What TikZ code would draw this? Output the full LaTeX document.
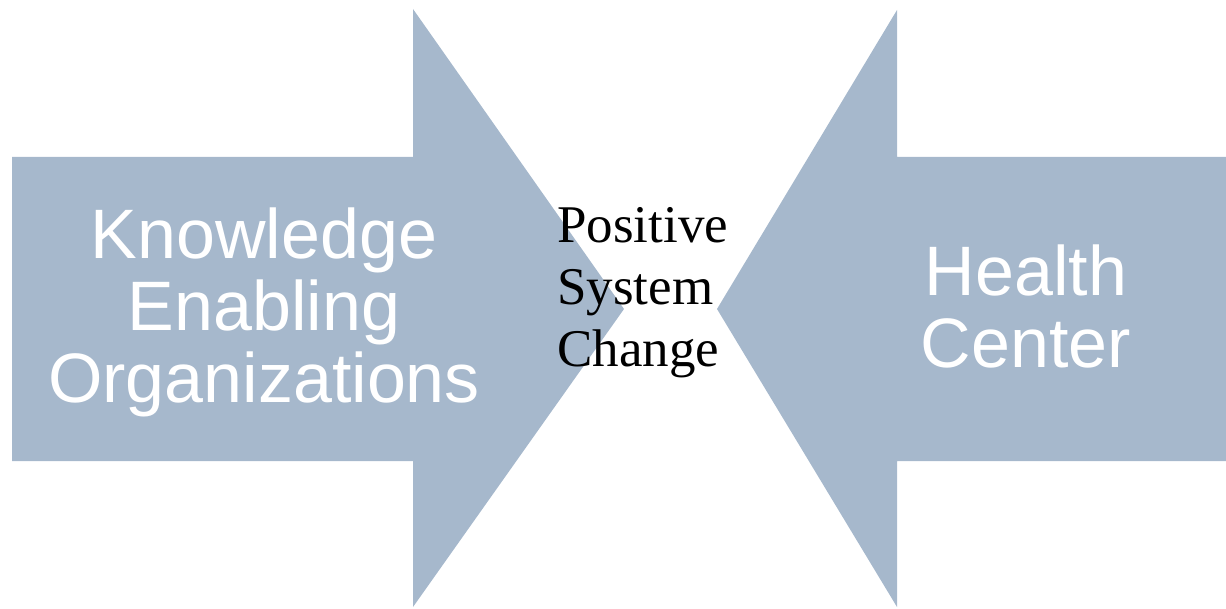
\documentclass[tikz,border=0pt]{standalone}
\usepackage{fontspec}
\setmainfont{Liberation Serif}
\newfontfamily\arialfont{Liberation Sans}
\definecolor{arrowblue}{HTML}{A6B8CC}

\begin{document}
\begin{tikzpicture}[x=0.5pt, y=-0.5pt, line join=miter]
	\tikzset{bigarrow/.style={fill=arrowblue, draw=none},
		whitelabel/.style={text=white, font=\arialfont\fontsize{35}{36}\selectfont, align=center, inner sep=0pt},
		midlabel/.style={text=black, font=\fontsize{26.5}{31}\selectfont, align=left, inner sep=0pt}}
	\useasboundingbox (0,0) rectangle (1226,609);
	\path
	(12,157) coordinate (L1)
	(413,157) coordinate (L2)
	(413,9) coordinate (L3)
	(624,309) coordinate (L4)
	(413,607) coordinate (L5)
	(413,461) coordinate (L6)
	(12,461) coordinate (L7)
	(1226,157) coordinate (R1)
	(897,157) coordinate (R2)
	(897,10) coordinate (R3)
	(717,309) coordinate (R4)
	(897,607) coordinate (R5)
	(897,461) coordinate (R6)
	(1226,461) coordinate (R7)
	;
	\fill[bigarrow] (L1)--(L2)--(L3)--(L4)--(L5)--(L6)--(L7)--cycle;
	\fill[bigarrow] (R1)--(R2)--(R3)--(R4)--(R5)--(R6)--(R7)--cycle;
	\node[whitelabel] (knowledge) at (264,312) {Knowledge\\Enabling\\Organizations};
	\node[whitelabel] (health) at (1026,306) {Health\\Center};
	\node[midlabel, anchor=west] (change) at (557,293) {Positive\\System\\Change};
\end{tikzpicture}
\end{document}
